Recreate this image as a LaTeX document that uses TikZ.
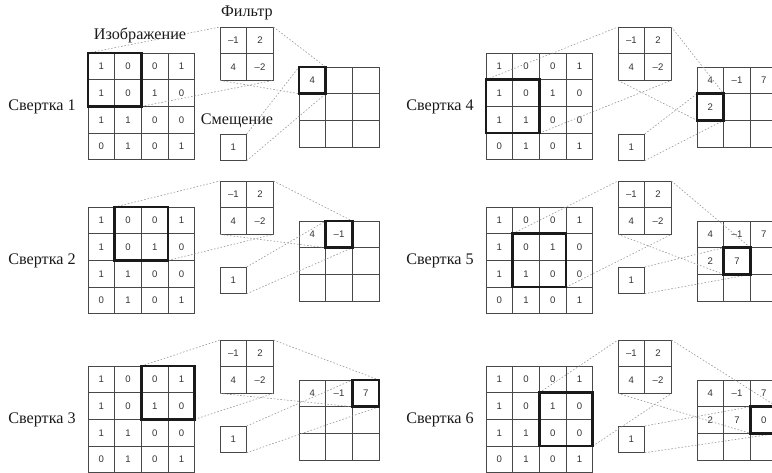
\documentclass[tikz,border=0pt]{standalone}
\usepackage{fontspec}
\setmainfont{Liberation Serif}
\newfontfamily\cellfont{Liberation Sans}
\usepackage{tikz}
\usetikzlibrary{positioning,calc}
\definecolor{ink}{HTML}{1A1A1A}
\definecolor{gridgray}{HTML}{484848}
\definecolor{numgray}{HTML}{333333}
\definecolor{guidegray}{HTML}{9A9A9A}
\tikzset{
  cell/.style={draw=gridgray,line width=0.6pt,
               minimum size=0.6675cm,inner sep=0pt,outer sep=0pt,
               font=\cellfont\fontsize{6.8}{8}\selectfont,text=numgray},
  cellnum/.style={inner sep=0pt,font=\cellfont\fontsize{6.8}{8}\selectfont,text=numgray},
  window/.style={draw=ink,line width=1.9pt},
  guide/.style={draw=guidegray,line width=0.45pt,dash pattern=on 1.1pt off 1.3pt},
  caption/.style={font=\fontsize{11.5}{13}\selectfont,text=ink,inner sep=0pt}
}
\newcommand{\cellsz}{26.7}
% #1 panel, #2/#3 image corner, #4 bias offset, #5/#6 window row/col, #7 output values
\newcommand{\convpanel}[7]{%
  \begin{scope}[shift={(#2,#3)}]
    % image
    \foreach \v [count=\i from 0] in {1,0,0,1,1,0,1,0,1,1,0,0,0,1,0,1} {
      \pgfmathtruncatemacro\rr{int(\i/4)+1}
      \pgfmathtruncatemacro\cc{mod(\i,4)+1}
      \node[cell] (img#1-\rr-\cc) at ({(\cc-0.5)*\cellsz},{(\rr-0.5)*\cellsz}) {\v};
    }
    % filter
    \foreach \v [count=\i from 0] in {–1,2,4,–2} {
      \pgfmathtruncatemacro\rr{int(\i/2)+1}
      \pgfmathtruncatemacro\cc{mod(\i,2)+1}
      \node[cell] (flt#1-\rr-\cc) at ({132+(\cc-0.5)*\cellsz},{-26+(\rr-0.5)*\cellsz}) {\v};
    }
    % bias
    \node[cell] (bias#1) at ({132+0.5*\cellsz},{#4+0.5*\cellsz}) {1};
    % output
    \foreach \rr in {1,2,3} {
      \foreach \cc in {1,2,3} {
        \node[cell] (out#1-\rr-\cc) at ({211+(\cc-0.5)*\cellsz},{14+(\rr-0.5)*\cellsz}) {};
      }
    }
    \foreach \r/\c/\v in {#7} {
      \node[cellnum] (val#1-\r-\c) at (out#1-\r-\c) {\v};
    }
    \node[caption,anchor=east] (lab#1) at (-12,{2*\cellsz}) {Свертка #1};
    % guide lines
    \pgfmathtruncatemacro\rb{#5+1}
    \pgfmathtruncatemacro\cb{#6+1}
    \draw[guide] (img#1-#5-#6.north west) -- (flt#1-1-1.north west);
    \draw[guide] (img#1-\rb-\cb.south east) -- (flt#1-2-2.south east);
    \draw[guide] (flt#1-1-2.north east) -- (out#1-#5-#6.north east);
    \draw[guide] (flt#1-2-1.south west) -- (out#1-#5-#6.south west);
    \draw[guide] (bias#1.north east) -- (out#1-#5-#6.north west);
    \draw[guide] (bias#1.south east) -- (out#1-#5-#6.south east);
    \draw[window] (img#1-#5-#6.north west) rectangle (img#1-\rb-\cb.south east);
    \draw[window] (out#1-#5-#6.north west) rectangle (out#1-#5-#6.south east);
  \end{scope}
}

\begin{document}
\begin{tikzpicture}[x=0.025cm,y=-0.025cm]
  \useasboundingbox (0,0) rectangle (772,473);
  \clip (0,0) rectangle (772,473);

  \convpanel{1}{88}{53}{81}{1}{1}{1/1/4}
  \convpanel{2}{88}{207}{60}{1}{2}{1/1/4,1/2/–1}
  \convpanel{3}{88}{366}{60}{1}{3}{1/1/4,1/2/–1,1/3/7}
  \convpanel{4}{486}{53}{81}{2}{1}{1/1/4,1/2/–1,1/3/7,2/1/2}
  \convpanel{5}{486}{207}{60}{2}{2}{1/1/4,1/2/–1,1/3/7,2/1/2,2/2/7}
  \convpanel{6}{486}{366}{60}{2}{3}{1/1/4,1/2/–1,1/3/7,2/1/2,2/2/7,2/3/0}

  \node[caption] (imglab) at (140,35) {Изображение};
  \node[caption] (fltlab) at (247,13) {Фильтр};
  \node[caption] (biaslab) at (237,121) {Смещение};
\end{tikzpicture}
\end{document}
